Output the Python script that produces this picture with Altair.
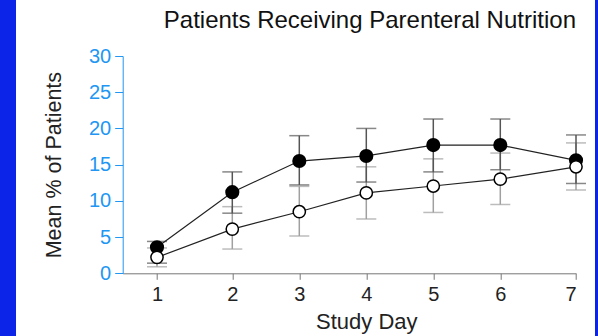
import altair as alt
import pandas as pd

days = [1, 2, 3, 4, 5, 6, 7]
filled_mean = [3.6, 11.2, 15.5, 16.2, 17.7, 17.7, 15.6]
filled_lo = [1.4, 8.3, 12.2, 12.6, 14.0, 14.3, 12.4]
filled_hi = [4.4, 14.0, 19.0, 20.0, 21.3, 21.3, 19.1]
open_mean = [2.2, 6.1, 8.5, 11.1, 12.05, 13.0, 14.7]
open_lo = [0.9, 3.35, 5.15, 7.5, 8.4, 9.5, 11.5]
open_hi = [3.5, 9.2, 12.0, 14.7, 15.8, 16.6, 18.0]
y_ticks = [0, 5, 10, 15, 20, 25, 30]

FONT = "Liberation Sans"
BLUE_AXIS = "#2196f3"
FRAME_BLUE = "#0b24e8"

df = pd.concat([
    pd.DataFrame({"day": days, "mean": filled_mean, "lo": filled_lo, "hi": filled_hi, "series": "filled"}),
    pd.DataFrame({"day": days, "mean": open_mean, "lo": open_lo, "hi": open_hi, "series": "open"}),
], ignore_index=True)

xscale = alt.Scale(domain=[0, 1, 2, 6, 7], range=[0, 34.3, 109.6, 377.6, 453.3], nice=False, zero=False)
yscale = alt.Scale(domain=[0, 30], nice=False)

xaxis = alt.Axis(values=days, format="d", title="Study Day", grid=False, labelOverlap=False,
                 domainColor="#777777", tickColor="#777777", tickSize=6,
                 labelFont=FONT, labelFontSize=20, labelColor="#222222", labelPadding=5,
                 titleFont=FONT, titleFontSize=22, titleFontWeight="normal", titleColor="#222222",
                 titleX=243.6, titleY=54.7, titleBaseline="alphabetic", titleAlign="center")
yaxis = alt.Axis(values=y_ticks, title="Mean % of Patients", grid=False, labelOverlap=False,
                 domainColor=BLUE_AXIS, tickColor=BLUE_AXIS, tickSize=8,
                 labelFont=FONT, labelFontSize=20, labelColor=BLUE_AXIS, labelPadding=4,
                 titleFont=FONT, titleFontSize=21.5, titleFontWeight="normal", titleColor="#222222",
                 titlePadding=23)

base = alt.Chart(df)


def X():
    return alt.X("day:Q", scale=xscale, axis=xaxis)


def Y(field):
    return alt.Y(field + ":Q", scale=yscale, axis=yaxis)


def errbars(series, color):
    b = base.transform_filter(alt.datum.series == series)
    rule = b.mark_rule(color=color, strokeWidth=1.5).encode(x=X(), y=Y("lo"), y2="hi:Q")
    t_lo = b.mark_tick(orient="horizontal", size=20, thickness=1.5, color=color).encode(x=X(), y=Y("lo"))
    t_hi = b.mark_tick(orient="horizontal", size=20, thickness=1.5, color=color).encode(x=X(), y=Y("hi"))
    return rule + t_lo + t_hi


lines = base.mark_line(color="#222222", strokeWidth=1.2).encode(
    x=X(), y=Y("mean"), detail="series:N")

filled_pts = base.transform_filter(alt.datum.series == "filled").mark_point(
    shape="circle", filled=True, color="#000000", size=200, opacity=1).encode(x=X(), y=Y("mean"))
open_pts = base.transform_filter(alt.datum.series == "open").mark_point(
    shape="circle", filled=True, fill="#ffffff", stroke="#000000", strokeWidth=1.5,
    size=150, opacity=1).encode(x=X(), y=Y("mean"))

one = pd.DataFrame({"a": [0]})
left_strip = alt.Chart(one).mark_rect(color=FRAME_BLUE).encode(
    x=alt.value(-122.7), x2=alt.value(-106.7), y=alt.value(-56), y2=alt.value(280))
right_strip = alt.Chart(one).mark_rect(color=FRAME_BLUE).encode(
    x=alt.value(472.3), x2=alt.value(480), y=alt.value(-56), y2=alt.value(280))

chart = alt.layer(
    errbars("open", "#a0a0a0"),
    errbars("filled", "#555555"),
    lines,
    filled_pts,
    open_pts,
    left_strip,
    right_strip,
).properties(
    width=453.3, height=217.3,
    title=alt.TitleParams("Patients Receiving Parenteral Nutrition", anchor="end", frame="group",
                          font=FONT, fontSize=24, fontWeight="normal", color="#111111",
                          baseline="alphabetic", offset=-52),
    autosize=alt.AutoSizeParams(type="none"),
    padding={"left": 122.7, "top": 56, "right": 22, "bottom": 62.7},
    background="#ffffff",
).configure_view(stroke=None)

chart.save("out.html", embed_options={"renderer": "svg", "actions": False})
